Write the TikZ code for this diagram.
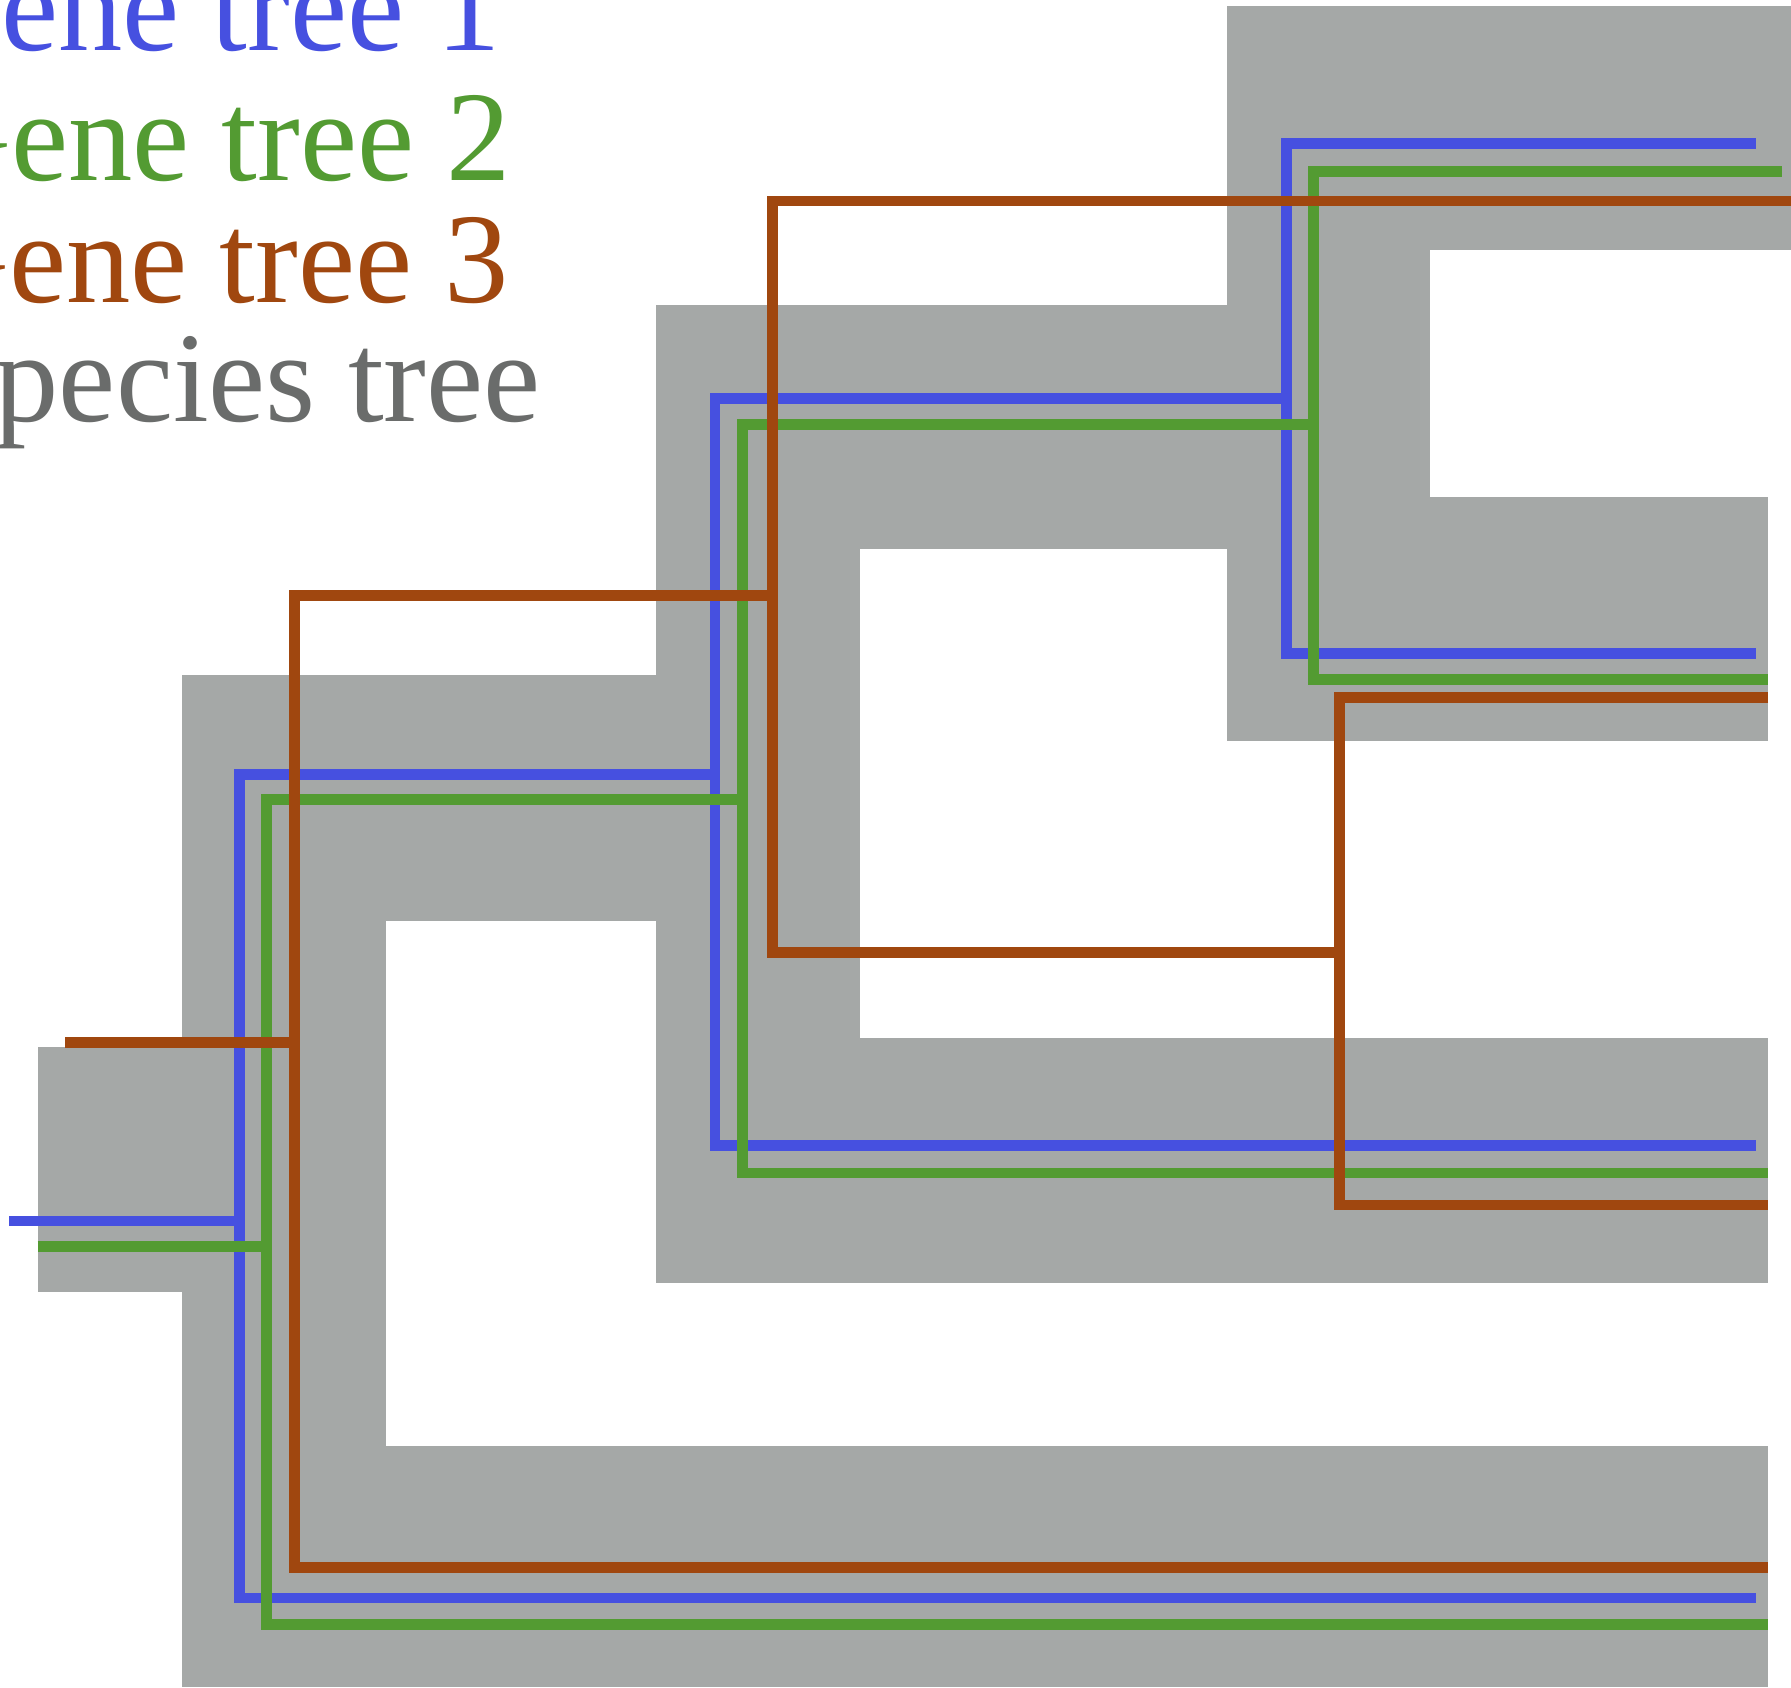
\documentclass[tikz,border=0pt]{standalone}
\usepackage{fontspec}
\setmainfont{Liberation Serif}
\definecolor{gtone}{HTML}{4650E0}
\definecolor{gttwo}{HTML}{539B32}
\definecolor{gtthree}{HTML}{A0470F}
\definecolor{spband}{HTML}{A5A8A7}
\definecolor{sptext}{HTML}{6A6C6B}
\tikzset{
  band/.style={fill=spband, draw=none},
  gline/.style={line width=0.095cm, line join=miter, line cap=butt},
  legend/.style={anchor=base east, inner sep=0pt, font=\fontsize{32}{38}\selectfont},
}
\begin{document}
\begin{tikzpicture}[x=0.01cm, y=-0.01cm]
\useasboundingbox (0,0) rectangle (1568,1477);
% species tree bands
\fill[band] (33,917) rectangle (160,1131);
\fill[band] (159,591) rectangle (338,1477);
\fill[band] (159,591) rectangle (575,806);
\fill[band] (159,1266) rectangle (1548,1477);
\fill[band] (574,267) rectangle (753,1123);
\fill[band] (574,267) rectangle (1075,481);
\fill[band] (574,909) rectangle (1548,1123);
\fill[band] (1074,5) rectangle (1252,649);
\fill[band] (1074,5) rectangle (1568,219);
\fill[band] (1074,435) rectangle (1548,649);
% gene tree 1
\coordinate (b0) at (8,1069);
\coordinate (b1) at (210,1069);
\draw[gline, gtone] (b0) -- (b1);
\draw[gline, gtone] (626,678) -- (210,678) -- (210,1399) -- (1537,1399);
\draw[gline, gtone] (1126,349) -- (626,349) -- (626,1003) -- (1537,1003);
\draw[gline, gtone] (1537,126) -- (1126,126) -- (1126,572) -- (1537,572);
% gene tree 2
\coordinate (g0) at (33,1091);
\coordinate (g1) at (233,1091);
\draw[gline, gttwo] (g0) -- (g1);
\draw[gline, gttwo] (650,700) -- (233,700) -- (233,1422) -- (1548,1422);
\draw[gline, gttwo] (1150,372) -- (650,372) -- (650,1027) -- (1548,1027);
\draw[gline, gttwo] (1560,150) -- (1150,150) -- (1150,595) -- (1548,595);
% gene tree 3
\coordinate (r0) at (57,913);
\coordinate (r1) at (258,913);
\draw[gline, gtthree] (r0) -- (r1);
\draw[gline, gtthree] (676,521) -- (258,521) -- (258,1372) -- (1548,1372);
\draw[gline, gtthree] (1568,176) -- (676,176) -- (676,834) -- (1173,834);
\draw[gline, gtthree] (1548,611) -- (1173,611) -- (1173,1055) -- (1548,1055);
% legend
\node[legend, text=gtone] (l1) at (439,44.5) {Gene tree 1};
\node[legend, text=gttwo] (l2) at (448,158) {Gene tree 2};
\node[legend, text=gtthree] (l3) at (446,265) {Gene tree 3};
\node[legend, text=sptext] (l4) at (474,369) {Species tree};
\end{tikzpicture}
\end{document}
